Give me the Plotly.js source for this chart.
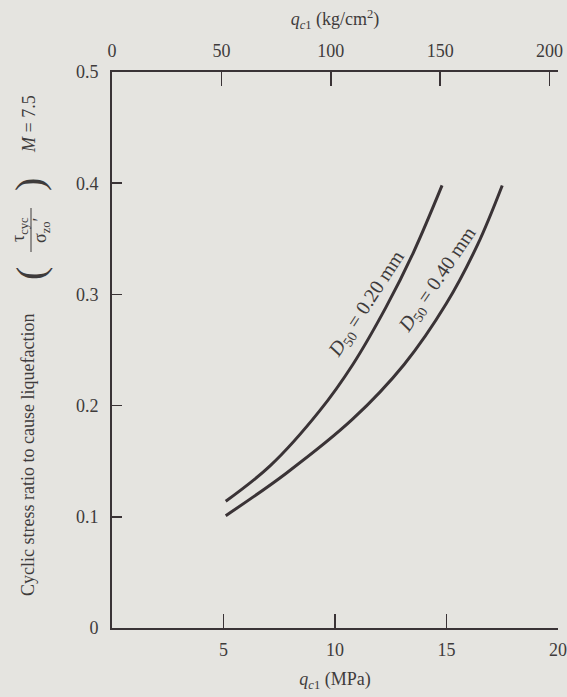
<!DOCTYPE html>
<html>
<head>
<meta charset="utf-8">
<script src="https://cdn.plot.ly/plotly-3.0.1.min.js"></script>
<style>
html,body{margin:0;padding:0;background:#e5e4e0;}
#chart{width:567px;height:697px;}
</style>
</head>
<body>
<div id="chart"></div>
<script>
// Data
const fineSandX = [5.1, 7.1, 9.3, 10.8, 12.3, 13.5, 14.8];      // q_c1 (MPa), D50 = 0.20 mm
const fineSandY = [0.114, 0.146, 0.195, 0.237, 0.289, 0.337, 0.398];
const coarseSandX = [5.1, 7.8, 10.8, 13.1, 15.0, 16.4, 17.5];   // q_c1 (MPa), D50 = 0.40 mm
const coarseSandY = [0.101, 0.139, 0.188, 0.237, 0.292, 0.345, 0.398];
const bottomTicks = [5, 10, 15, 20];
const topTicks = [0, 50, 100, 150, 200];            // kg/cm^2
const yTicks = [0, 0.1, 0.2, 0.3, 0.4, 0.5];
const yTickText = ['0', '0.1', '0.2', '0.3', '0.4', '0.5'];
const mpaPerKgcm2 = 0.0981;

const ink = '#3a3336';
const txt = '#3e3b3b';
const bg = '#e5e4e0';
const serif = 'Liberation Serif, Times New Roman, serif';

const L = 112, R = 9, T = 72, B = 69, W = 567, H = 697;
const pw = W - L - R, ph = H - T - B;
const px = v => (v - L) / pw;
const py = v => (H - B - v) / ph;

const traces = [
  {x: fineSandX, y: fineSandY, mode: 'lines', line: {color: ink, width: 3, shape: 'spline'}, hoverinfo: 'skip', showlegend: false},
  {x: coarseSandX, y: coarseSandY, mode: 'lines', line: {color: ink, width: 3, shape: 'spline'}, hoverinfo: 'skip', showlegend: false},
  // carrier for the top (kg/cm^2) axis, draws nothing
  {x: topTicks, y: topTicks.map(() => null), xaxis: 'x2', yaxis: 'y', mode: 'lines', hoverinfo: 'skip', showlegend: false}
];

const axisFont = {family: serif, size: 18, color: txt};

const layout = {
  width: W, height: H,
  margin: {l: L, r: R, t: T, b: B, pad: 0},
  paper_bgcolor: bg, plot_bgcolor: bg,
  font: axisFont,
  showlegend: false,
  xaxis: {
    range: [0, 20], tickvals: bottomTicks, ticks: 'inside', ticklen: 14, tickwidth: 1.5, tickcolor: ink,
    showline: true, linecolor: ink, linewidth: 2, showgrid: false, zeroline: false,
    tickfont: axisFont, ticklabelstandoff: 4,
    title: {text: '<i>q</i><sub><i>c</i>1</sub> (MPa)', font: axisFont, standoff: 14}
  },
  xaxis2: {
    overlaying: 'x', side: 'top', anchor: 'y',
    range: [0, 20 / mpaPerKgcm2], tickvals: topTicks, ticks: 'inside', ticklen: 14, tickwidth: 1.5, tickcolor: ink,
    showline: true, linecolor: ink, linewidth: 2, showgrid: false, zeroline: false,
    tickfont: axisFont, ticklabelstandoff: 6,
    title: {text: '<i>q</i><sub><i>c</i>1</sub> (kg/cm<sup>2</sup>)', font: axisFont, standoff: 10}
  },
  yaxis: {
    range: [0, 0.5], tickvals: yTicks, ticktext: yTickText, ticks: 'inside', ticklen: 10, tickwidth: 1.5, tickcolor: ink,
    showline: true, linecolor: ink, linewidth: 2, showgrid: false, zeroline: false,
    tickfont: axisFont, ticklabelstandoff: 8
  },
  annotations: [
    {xref: 'x', yref: 'y', x: 11.42, y: 0.291, text: '<i>D</i><sub>50</sub> = 0.20 mm', textangle: -57,
     showarrow: false, font: {family: serif, size: 20, color: txt}, xanchor: 'center', yanchor: 'middle'},
    {xref: 'x', yref: 'y', x: 14.63, y: 0.313, text: '<i>D</i><sub>50</sub> = 0.40 mm', textangle: -56,
     showarrow: false, font: {family: serif, size: 20, color: txt}, xanchor: 'center', yanchor: 'middle'},
    // composite y-axis title
    {xref: 'paper', yref: 'paper', x: px(28), y: py(455), text: 'Cyclic stress ratio to cause liquefaction',
     textangle: -90, showarrow: false, font: axisFont, xanchor: 'center', yanchor: 'middle'},
    {xref: 'paper', yref: 'paper', x: px(30), y: py(274), text: '(', textangle: -90, showarrow: false,
     font: {family: serif, size: 40, color: txt}, xanchor: 'center', yanchor: 'middle'},
    {xref: 'paper', yref: 'paper', x: px(19), y: py(230), text: 'τ<sub>cyc</sub>', textangle: -90, showarrow: false,
     font: {family: serif, size: 18, color: txt}, xanchor: 'center', yanchor: 'middle'},
    {xref: 'paper', yref: 'paper', x: px(41), y: py(230), text: 'σ<sub>zo</sub>′', textangle: -90, showarrow: false,
     font: {family: serif, size: 18, color: txt}, xanchor: 'center', yanchor: 'middle'},
    {xref: 'paper', yref: 'paper', x: px(30), y: py(185), text: ')', textangle: -90, showarrow: false,
     font: {family: serif, size: 40, color: txt}, xanchor: 'center', yanchor: 'middle'},
    {xref: 'paper', yref: 'paper', x: px(29), y: py(124), text: '<i>M</i> = 7.5', textangle: -90, showarrow: false,
     font: axisFont, xanchor: 'center', yanchor: 'middle'}
  ],
  shapes: [
    {type: 'line', xref: 'paper', yref: 'paper', x0: px(31), x1: px(31), y0: py(252), y1: py(208),
     line: {color: txt, width: 1}}
  ]
};

Plotly.newPlot('chart', traces, layout, {staticPlot: true, displayModeBar: false});
</script>
</body>
</html>
